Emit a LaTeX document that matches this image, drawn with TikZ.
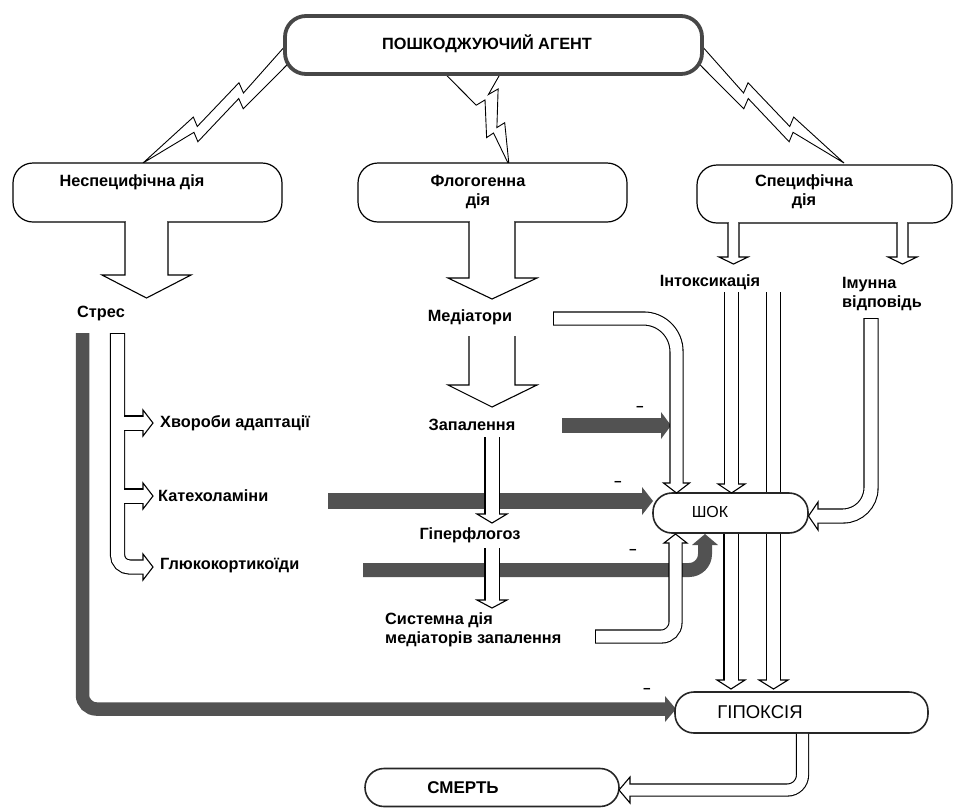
\documentclass[tikz,border=0pt]{standalone}
\usepackage{fontspec}
\setmainfont{Liberation Sans}
\newcommand\hpipe[5]{%
  \draw[line width=#1pt+2.2pt, rounded corners=#2pt] #4;
  \filldraw[hol] #5;
  \draw[white, line width=#1pt, rounded corners=#2pt, shorten <=#3pt, shorten >=-1.6pt] #4;
}
\begin{document}
\begin{tikzpicture}[x=1pt,y=-1pt,
  lbl/.style={font=\fontsize{16.3}{19}\selectfont\bfseries, inner sep=0pt},
  lbll/.style={lbl, anchor=west},
  bx/.style={draw=black, line width=1.2pt, fill=white, rounded corners=20pt},
  pill/.style={draw=black!85, line width=1.6pt, fill=white, rounded corners=19pt},
  dark/.style={draw=black!68, line cap=butt},
  darkhead/.style={fill=black!68},
  hol/.style={draw=black, line width=1.1pt, fill=white, line join=miter},
  bolt/.style={draw=black, line width=0.9pt, fill=white, line join=miter},
  mn/.style={font=\fontsize{13}{13}\selectfont\bfseries, inner sep=0pt}
]
\useasboundingbox (0,0) rectangle (957,807);
\fill[white] (0,0) rectangle (957,807);

% lightning bolts (local frame: x along the bolt, y across it)
\begin{scope}[shift={(296,60)}, x={(-0.8297pt,-0.5586pt)}, y={(0.5586pt,-0.8297pt)}]
  \filldraw[bolt] (0,-18) -- (62,-2) -- (60,-13) -- (119,0) -- (117,-10) -- (184.4,0)
    -- (125,3) -- (127,13) -- (69,0) -- (71,11) -- (0,-3) -- cycle;
\end{scope}
\begin{scope}[shift={(691,60)}, x={(0.8297pt,-0.5586pt)}, y={(-0.5586pt,-0.8297pt)}]
  \filldraw[bolt] (0,-18) -- (62,-2) -- (60,-13) -- (119,0) -- (117,-10) -- (184.4,0)
    -- (125,3) -- (127,13) -- (69,0) -- (71,11) -- (0,-3) -- cycle;
\end{scope}
\begin{scope}[shift={(472,60)}, x={(0.3324pt,-0.9433pt)}, y={(-0.9433pt,-0.3324pt)}]
  \filldraw[bolt] (0,-48) -- (38,-4) -- (36,-15) -- (72,-1) -- (70,-10) -- (111.3,0)
    -- (76,4) -- (78,12) -- (42,1) -- (44,11) -- (0,32) -- cycle;
\end{scope}

% top box
\node[draw=black!72, line width=3.8pt, fill=white, rounded corners=21pt,
  minimum width=417pt, minimum height=58pt] (agent) at (493.5,45) {};
\node[lbl] (agentT) at (487,44) {ПОШКОДЖУЮЧИЙ АГЕНТ};

% three action boxes
\node[bx, minimum width=269pt, minimum height=59pt] (nonspec) at (147.5,192.5) {};
\node[bx, minimum width=269pt, minimum height=59pt] (phlog) at (492.5,192.5) {};
\node[bx, minimum width=255pt, minimum height=58pt] (spec) at (824.5,194) {};

% big block arrows
\fill[white] (125.7,219) rectangle (167.3,224);
\filldraw[hol] (125,222) -- (125,275) -- (102,275) -- (146.5,298) -- (191,275) -- (168,275) -- (168,222);
\fill[white] (469.7,219) rectangle (514.3,224);
\filldraw[hol] (469,222) -- (469,278) -- (448,278) -- (492,299) -- (537,278) -- (515,278) -- (515,222);
\filldraw[hol] (469,336) -- (469,385) -- (448,385) -- (492,407) -- (537,385) -- (515,385) -- (515,336);
% small arrows of specific action
\fill[white] (728.6,220) rectangle (738.4,225);
\filldraw[hol] (728,223) -- (728,257) -- (719,257) -- (733.5,264) -- (748,257) -- (739,257) -- (739,223);
\fill[white] (897.6,220) rectangle (907.4,225);
\filldraw[hol] (897,223) -- (897,257) -- (888,257) -- (902.5,264) -- (917,257) -- (908,257) -- (908,223);

% texts of action boxes
\node[lbl] (nsT) at (132,182) {Неспецифічна дія};
\node[lbl, align=center] (phT) at (478,192) {Флогогенна\\дія};
\node[lbl, align=center] (spT) at (804,192) {Специфічна\\дія};

% stress pathway
\draw[dark, line width=13.5pt, rounded corners=14pt] (82.5,333) -- (82.5,709) -- (666,709);
\fill[darkhead] (665,696) -- (676,709) -- (665,722) -- cycle;
\hpipe{13}{12}{1.1}{(117.5,333) -- (117.5,567) -- (143,567)}{(143,554) -- (153,567) -- (143,580) -- cycle}
\hpipe{13}{0.1}{0}{(124,423) -- (143,423)}{(143,410) -- (153,423) -- (143,436) -- cycle}
\hpipe{13}{0.1}{0}{(124,496) -- (143,496)}{(143,483) -- (153,496) -- (143,509) -- cycle}

% intoxication arrow passing behind shock
\hpipe{13}{0.1}{-1}{(773.5,292) -- (773.5,680)}{(759,680) -- (773.5,689) -- (788,680) -- cycle}

% dark bars
\draw[dark, line width=15pt] (562,425.5) -- (662,425.5);
\fill[darkhead] (661,412) -- (671,425.5) -- (661,439) -- cycle;
\draw[dark, line width=16pt] (328,501) -- (643,501);
\fill[darkhead] (642,487) -- (653,501) -- (642,515) -- cycle;
\draw[dark, line width=14pt, rounded corners=16pt] (363,570) -- (705,570) -- (705,544);
\fill[darkhead] (692,545) -- (705,534) -- (718,545) -- cycle;

% result boxes
\node[pill, minimum width=155pt, minimum height=40pt] (shok) at (730.5,513) {};
\node[pill, minimum width=253pt, minimum height=41pt] (hyp) at (801.5,712.5) {};
\node[pill, minimum width=254pt, minimum height=38pt] (death) at (492,787.5) {};

% hollow arrows to the boxes
\hpipe{12}{33}{1.1}{(553,318.5) -- (676.5,318.5) -- (676.5,483)}{(663.5,483) -- (676.5,493) -- (689.5,483) -- cycle}
\hpipe{13}{0.1}{-1}{(731.5,292) -- (731.5,484)}{(718,484) -- (731.5,493) -- (745,484) -- cycle}
\hpipe{13}{0.1}{0}{(731,533.8) -- (731,680)}{(717,680) -- (731,689) -- (745,680) -- cycle}
\hpipe{13}{28}{1.1}{(871,318) -- (871,516) -- (818,516)}{(818,502) -- (808.5,516) -- (818,530) -- cycle}
\hpipe{12}{14}{1.1}{(595,636.5) -- (675.5,636.5) -- (675.5,543)}{(664,543) -- (675.5,534) -- (687,543) -- cycle}
\hpipe{11}{15}{0}{(802.5,733.8) -- (802.5,790) -- (630,790)}{(630,777) -- (619,790) -- (630,803) -- cycle}

% inflammation chain
\hpipe{13}{0.1}{-1}{(492,437) -- (492,514)}{(477,514) -- (492,523) -- (507,514) -- cycle}
\hpipe{13}{0.1}{-1}{(492,548) -- (492,600)}{(477,600) -- (492,608) -- (507,600) -- cycle}

% labels
\node[lbl] (stresT) at (101,313) {Стрес};
\node[lbll] (hvT) at (160,423) {Хвороби адаптації};
\node[lbll] (katT) at (158,496) {Катехоламіни};
\node[lbll] (glT) at (160,566) {Глюкокортикоїди};
\node[lbl] (medT) at (470,317) {Медіатори};
\node[lbl] (zapT) at (472,425) {Запалення};
\node[lbl] (gipT) at (470,535) {Гіперфлогоз};
\node[lbl, align=left, anchor=north west] (sysT) at (385,612) {Системна дія\\медіаторів запалення};
\node[lbl] (intT) at (710,282) {Інтоксикація};
\node[lbl, align=left, anchor=north west] (imT) at (842,277) {Імунна\\відповідь};
\node[font=\fontsize{16}{16}\selectfont, inner sep=0pt] (shokT) at (710,512) {ШОК};
\node[font=\fontsize{18.5}{18.5}\selectfont, inner sep=0pt] (hypT) at (760,712) {ГІПОКСІЯ};
\node[font=\fontsize{17}{17}\selectfont\bfseries, inner sep=0pt] (deathT) at (463,788) {СМЕРТЬ};

% minus signs
\node[mn] (m1) at (640,409) {−};
\node[mn] (m2) at (618,484) {−};
\node[mn] (m3) at (633,552) {−};
\node[mn] (m4) at (647,691) {−};
\end{tikzpicture}
\end{document}
